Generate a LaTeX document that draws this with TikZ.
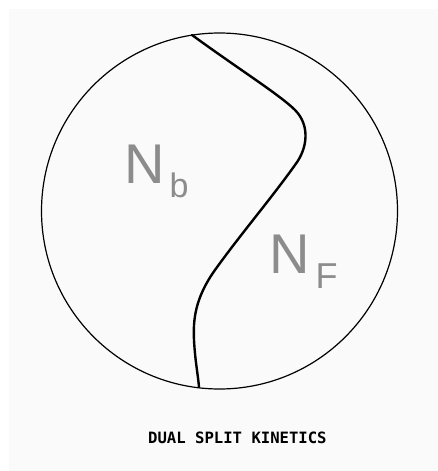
\documentclass[tikz,border=0pt]{standalone}
\usepackage{xcolor}
\usepackage{fontspec}
\setmainfont{Liberation Sans}
\newfontfamily\labelmono{DejaVu Sans Mono}
\usepackage{tikz}
\definecolor{labelgray}{HTML}{8C8C8C}
\definecolor{paper}{HTML}{FAFAFA}
\tikzset{
  regionlabel/.style={anchor=base west, inner sep=0pt, text=labelgray, font=\fontsize{56}{56}\selectfont},
  caption/.style={anchor=base west, inner sep=0pt, font=\labelmono\bfseries\fontsize{15.6}{16}\selectfont}
}

\begin{document}
\begin{tikzpicture}[x=1pt,y=-1pt]
\useasboundingbox (0,0) rectangle (438,471);
\fill[paper] (9,9) rectangle (438,471);
\draw[line width=1.2pt] (219.5,211) circle (178);
\draw[line width=2.4pt, line cap=round, line join=round] (192,35) .. controls (240,70) and (280,95) .. (295,110)
  .. controls (310,125) and (308,148) .. (295,165)
  .. controls (270,200) and (240,235) .. (215,270)
  .. controls (195,298) and (193,320) .. (194,340)
  .. controls (195,360) and (198,375) .. (199,387);
\node[regionlabel] (nb) at (124,183) {N\hspace{5pt}\raisebox{-14pt}{\fontsize{34}{34}\selectfont b}};
\node[regionlabel] (nf) at (269,273) {N\hspace{6pt}\raisebox{-15pt}{\fontsize{36}{36}\selectfont F}};
\node[caption] (title) at (148,443) {DUAL SPLIT KINETICS};
\end{tikzpicture}
\end{document}
